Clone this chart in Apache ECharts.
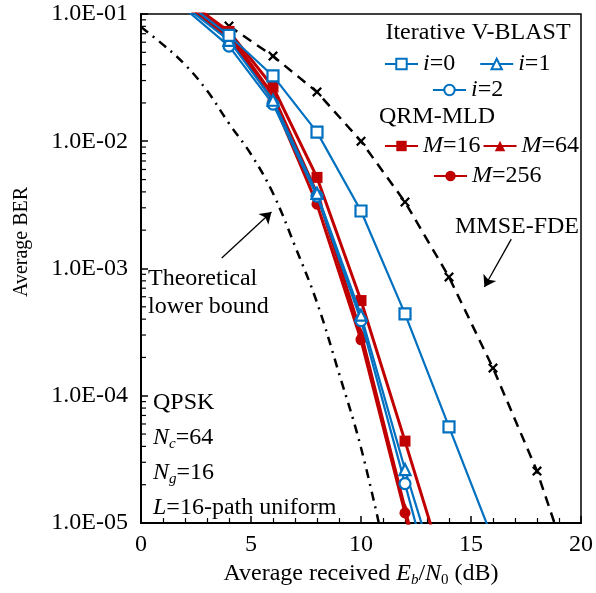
<!DOCTYPE html>
<html>
<head>
<meta charset="utf-8">
<script src="https://cdn.jsdelivr.net/npm/echarts@6/dist/echarts.min.js"></script>
<style>
html, body { margin: 0; padding: 0; background: #fff; }
#chart { width: 596px; height: 593px; }
</style>
</head>
<body>
<div id="chart"></div>
<script>
// Eb/N0 (dB) and BER
var xVblast0 = [2, 4, 6, 8, 10, 12, 14, 16];
var berVblast0 = [0.125, 6.8e-2, 3.26e-2, 1.18e-2, 2.83e-3, 4.4e-4, 5.7e-5, 7.4e-6];
var xVblast12 = [2, 4, 6, 8, 10, 12, 13];
var berVblast1 = [0.115, 6.2e-2, 2.1e-2, 3.9e-3, 4.3e-4, 2.63e-5, 7.2e-6];
var berVblast2 = [0.11, 5.6e-2, 1.96e-2, 3.7e-3, 3.9e-4, 2.04e-5, 4.6e-6];
var xQrm16 = [2, 4, 6, 8, 10, 12, 14];
var berQrm16 = [0.13, 7.3e-2, 2.67e-2, 5.2e-3, 5.6e-4, 4.4e-5, 3.3e-6];
var xQrm = [2, 4, 6, 8, 10, 12, 13];
var berQrm64 = [0.12, 7.0e-2, 2.3e-2, 3.9e-3, 3.1e-4, 1.3e-5, 2.6e-6];
var berQrm256 = [0.115, 6.6e-2, 2.1e-2, 3.2e-3, 2.75e-4, 1.2e-5, 2.1e-6];
var xMmse = [4, 6, 8, 10, 12, 14, 16, 18, 20];
var berMmse = [8.05e-2, 4.67e-2, 2.44e-2, 1.0e-2, 3.33e-3, 8.57e-4, 1.65e-4, 2.56e-5, 2.4e-6];
var xBound = [0, 1, 2, 3, 4, 5, 6, 7, 8, 9, 10, 11];
var berBound = [0.079, 0.0575, 0.040, 0.025, 0.0138, 0.0079, 0.0039, 0.0015, 5.4e-4, 1.5e-4, 3.9e-5, 7.1e-6];

// annotation arrows [tail, head] in data units
var arrowBound = [[3.67, 1.21e-3], [5.93, 2.78e-3]];
var arrowMmse = [[16.83, 1.7e-3], [15.61, 7.16e-4]];

var minorTickVals = [];
[1e-5, 1e-4, 1e-3, 1e-2].forEach(function (d) {
    for (var k = 2; k <= 9; k++) minorTickVals.push(d * k);
});

var FONT = 'Liberation Serif';
var BLUE = '#0070C0';
var RED = '#C00000';
var CROSS = 'path://M0,1.6L1.6,0L5,3.4L8.4,0L10,1.6L6.6,5L10,8.4L8.4,10L5,6.6L1.6,10L0,8.4L3.4,5Z';

function pairs(xs, ys) {
    return xs.map(function (x, i) { return [x, ys[i]]; });
}

function curve(name, xs, ys, color, symbol, filled, width) {
    return {
        name: name,
        type: 'line',
        data: pairs(xs, ys),
        clip: true,
        symbol: symbol,
        symbolSize: 11,
        lineStyle: { color: color, width: width },
        itemStyle: {
            color: filled ? color : '#fff',
            borderColor: color,
            borderWidth: filled ? 0 : 2.2
        },
        emphasis: { disabled: true },
        z: filled ? 3 : 4
    };
}

var rich = {
    it: { fontFamily: FONT, fontSize: 24, fontStyle: 'italic', color: '#000' },
    sub: { fontFamily: FONT, fontSize: 15, fontStyle: 'italic', color: '#000', verticalAlign: 'bottom', lineHeight: 28 },
    subr: { fontFamily: FONT, fontSize: 15, color: '#000', verticalAlign: 'bottom', lineHeight: 28 }
};

function legendBox(names, left, top, gap) {
    return {
        data: names,
        left: left,
        top: top,
        orient: 'horizontal',
        itemWidth: 33,
        itemHeight: 13,
        itemGap: gap,
        selectedMode: false,
        textStyle: { fontFamily: FONT, fontSize: 24, color: '#000', rich: rich },
        formatter: function (n) { return n.replace(/^(i|M)/, '{it|$1}'); }
    };
}

var dom = document.getElementById('chart');
var myChart = echarts.init(dom);

var option = {
    animation: false,
    backgroundColor: '#fff',
    grid: {
        left: 141, right: 13, top: 14, bottom: 70,
        show: true, borderColor: '#000', borderWidth: 1.5, backgroundColor: 'transparent'
    },
    legend: [
        legendBox(['i=0', 'i=1'], 379, 47, 24),
        legendBox(['i=2'], 427, 73, 10),
        legendBox(['M=16', 'M=64'], 379, 129, 2),
        legendBox(['M=256'], 428, 159, 10)
    ],
    xAxis: {
        type: 'value',
        min: 0,
        max: 20,
        interval: 5,
        name: '{n|Average received }{it|E}{sub|b}{n|/}{it|N}{subr|0}{n| (dB)}',
        nameLocation: 'middle',
        nameGap: 37,
        nameTextStyle: {
            rich: {
                n: { fontFamily: FONT, fontSize: 24, color: '#000' },
                it: rich.it, sub: rich.sub, subr: rich.subr
            }
        },
        axisLine: { lineStyle: { color: '#000', width: 2 } },
        axisTick: { inside: true, length: 7, lineStyle: { color: '#000', width: 1.5 } },
        minorTick: { show: true, splitNumber: 5, length: 5, lineStyle: { color: '#000', width: 1.2 } },
        axisLabel: { fontFamily: FONT, fontSize: 24, color: '#000', margin: 10 },
        splitLine: { show: false }
    },
    yAxis: {
        type: 'log',
        logBase: 10,
        min: 1e-5,
        max: 1e-1,
        axisLine: { show: true, lineStyle: { color: '#000', width: 2 } },
        axisTick: { show: true, inside: true, length: 7, lineStyle: { color: '#000', width: 1.5 } },
        axisLabel: {
            fontFamily: FONT, fontSize: 24, color: '#000', margin: 13,
            formatter: function (v) {
                return '1.0E-0' + Math.round(-Math.log10(v));
            }
        },
        splitLine: { show: false }
    },
    graphic: [
        { type: 'text', x: 478, y: 33, style: { text: 'Iterative V-BLAST', font: '24px "Liberation Serif"', fill: '#000', align: 'center', verticalAlign: 'middle' } },
        { type: 'text', x: 379, y: 117, style: { text: 'QRM-MLD', font: '24px "Liberation Serif"', fill: '#000', align: 'left', verticalAlign: 'middle' } },
        { type: 'text', x: 455, y: 227, style: { text: 'MMSE-FDE', font: '24px "Liberation Serif"', fill: '#000', align: 'left', verticalAlign: 'middle' } },
        { type: 'text', x: 148, y: 279, style: { text: 'Theoretical', font: '24px "Liberation Serif"', fill: '#000', align: 'left', verticalAlign: 'middle' } },
        { type: 'text', x: 148, y: 307, style: { text: 'lower bound', font: '24px "Liberation Serif"', fill: '#000', align: 'left', verticalAlign: 'middle' } },
        { type: 'text', x: 153, y: 403, style: { text: 'QPSK', font: '24px "Liberation Serif"', fill: '#000', align: 'left', verticalAlign: 'middle' } },
        { type: 'text', x: 153, y: 438, style: { text: '{it|N}{sub|c}{n|=64}', align: 'left', verticalAlign: 'middle', rich: { it: rich.it, sub: rich.sub, n: { fontFamily: FONT, fontSize: 24, color: '#000' } } } },
        { type: 'text', x: 153, y: 473, style: { text: '{it|N}{sub|g}{n|=16}', align: 'left', verticalAlign: 'middle', rich: { it: rich.it, sub: rich.sub, n: { fontFamily: FONT, fontSize: 24, color: '#000' } } } },
        { type: 'text', x: 153, y: 508, style: { text: '{it|L}{n|=16-path uniform}', align: 'left', verticalAlign: 'middle', rich: { it: rich.it, n: { fontFamily: FONT, fontSize: 24, color: '#000' } } } },
        { type: 'text', x: 22, y: 242, rotation: Math.PI / 2, style: { text: 'Average BER', font: '20px "Liberation Serif"', fill: '#000', align: 'center', verticalAlign: 'middle' } }
    ],
    series: [
        {
            name: 'Lower bound',
            type: 'line',
            data: pairs(xBound, berBound),
            smooth: 0.4,
            clip: true,
            symbol: 'none',
            lineStyle: { color: '#000', width: 2.5, type: [9, 6, 2, 6] },
            markLine: {
                silent: true,
                symbol: ['none', 'arrow'],
                symbolSize: 11,
                label: { show: false },
                lineStyle: { color: '#000', width: 1.3, type: 'solid' },
                data: [[{ coord: arrowBound[0] }, { coord: arrowBound[1] }]]
            },
            z: 2
        },
        {
            name: 'MMSE-FDE',
            type: 'line',
            data: pairs(xMmse, berMmse),
            clip: true,
            symbol: CROSS,
            symbolSize: 10,
            itemStyle: { color: '#000' },
            lineStyle: { color: '#000', width: 2.5, type: [10, 7] },
            markLine: {
                silent: true,
                symbol: ['none', 'arrow'],
                symbolSize: 11,
                label: { show: false },
                lineStyle: { color: '#000', width: 1.3, type: 'solid' },
                data: [[{ coord: arrowMmse[0] }, { coord: arrowMmse[1] }]]
            },
            z: 2
        },
        curve('M=256', xQrm, berQrm256, RED, 'circle', true, 3),
        curve('M=64', xQrm, berQrm64, RED, 'triangle', true, 3),
        curve('M=16', xQrm16, berQrm16, RED, 'rect', true, 3),
        curve('i=2', xVblast12, berVblast2, BLUE, 'circle', false, 2.2),
        curve('i=1', xVblast12, berVblast1, BLUE, 'triangle', false, 2.2),
        curve('i=0', xVblast0, berVblast0, BLUE, 'rect', false, 2.2),
        {
            name: 'minor ticks',
            type: 'custom',
            data: minorTickVals.map(function (v) { return [0, v]; }),
            silent: true,
            renderItem: function (params, api) {
                var p = api.coord([0, api.value(1)]);
                return {
                    type: 'line',
                    shape: { x1: p[0], y1: p[1], x2: p[0] + 5, y2: p[1] },
                    style: { stroke: '#000', lineWidth: 1.2 }
                };
            },
            z: 5
        }
    ]
};

if (option && typeof option === 'object') {
    myChart.setOption(option);
}

window.addEventListener('resize', myChart.resize);
</script>
</body>
</html>
